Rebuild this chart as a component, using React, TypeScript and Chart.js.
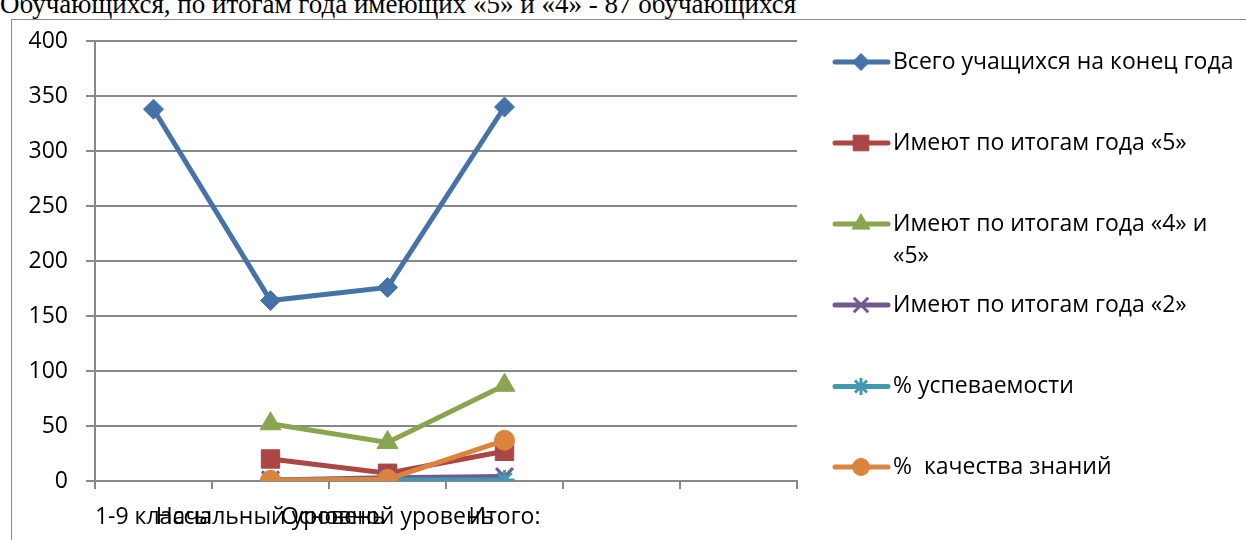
import React, { useEffect, useRef } from "react";
import { Chart, registerables } from "chart.js";
import { drawPoint } from "chart.js/helpers";

Chart.register(...registerables);

// ---- data ----
const titleText = "Обучающихся, по итогам года имеющих «5» и «4» - 87 обучающихся";
const categories = ["1-9 классы", "Начальный уровень", "Основной уровень", "Итого:", "", ""];
const seriesNames = [
  "Всего учащихся на конец года",
  "Имеют по итогам года «5»",
  "Имеют по итогам года «4» и «5»",
  "Имеют по итогам года «2»",
  "% успеваемости",
  "%  качества знаний",
];
const totalStudents = [338, 164, 176, 340, null, null];
const gradeFive = [null, 20, 7, 27, null, null];
const gradeFourFive = [null, 52, 35, 87, null, null];
const gradeTwo = [null, 1, 3, 4, null, null];
const successPct = [null, 0.99, 0.98, 0.99, null, null];
const qualityPct = [null, 0.6, 1.5, 37, null, null];
const yMin = 0;
const yMax = 400;
const yStep = 50;

// ---- style ----
const colors = ["#4572A7", "#AA4643", "#89A54E", "#71588F", "#4198AF", "#DB843D"];
const pointStyles = ["rectRot", "rect", "triangle", "crossRot", "star", "circle"];
const pointRadii = [10, 13, 12, 12, 10, 10];
const pointBorderWidths = [1, 1, 1, 3, 3, 1];
const seriesValues = [totalStudents, gradeFive, gradeFourFive, gradeTwo, successPct, qualityPct];
const FONT_FAMILY = "'Open Sans', 'Noto Sans', sans-serif";
const FONT_SIZE = 23;
const GRID = "#888888";
const LEGEND_Y = [62, 143, 224, 305, 386.5, 467];
const LEGEND_LINE_X0 = 835;
const LEGEND_LINE_X1 = 888;
const LEGEND_MARK_X = 861;
const LEGEND_TEXT_X = 893;
const LEGEND_MAX_W = 345;
const LEGEND_LINE_H = 32.6;

function wrapText(ctx: CanvasRenderingContext2D, text: string, maxW: number): string[] {
  const words = text.split(" ");
  const lines: string[] = [];
  let cur = "";
  for (const w of words) {
    const test = cur ? cur + " " + w : w;
    if (cur && ctx.measureText(test).width > maxW) {
      lines.push(cur);
      cur = w;
    } else {
      cur = test;
    }
  }
  if (cur) lines.push(cur);
  return lines;
}

const sideLegend = {
  id: "sideLegend",
  afterDraw(chart: any) {
    const ctx: CanvasRenderingContext2D = chart.ctx;
    ctx.save();
    chart.data.datasets.forEach((ds: any, i: number) => {
      const y = LEGEND_Y[i];
      ctx.strokeStyle = ds.borderColor;
      ctx.lineWidth = 5;
      ctx.lineCap = "round";
      ctx.beginPath();
      ctx.moveTo(LEGEND_LINE_X0, y);
      ctx.lineTo(LEGEND_LINE_X1, y);
      ctx.stroke();
      ctx.lineCap = "butt";
      ctx.fillStyle = ds.pointBackgroundColor;
      ctx.strokeStyle = ds.pointBorderColor;
      ctx.lineWidth = ds.pointBorderWidth;
      drawPoint(
        ctx,
        { pointStyle: ds.pointStyle, radius: ds.pointRadius * 0.85, rotation: 0, borderWidth: ds.pointBorderWidth } as any,
        LEGEND_MARK_X,
        y
      );
      ctx.fillStyle = "#000";
      ctx.font = `${FONT_SIZE}px ${FONT_FAMILY}`;
      ctx.textBaseline = "middle";
      ctx.textAlign = "left";
      const lines = wrapText(ctx, ds.label, LEGEND_MAX_W);
      lines.forEach((ln, k) => ctx.fillText(ln, LEGEND_TEXT_X, y + k * LEGEND_LINE_H));
    });
    ctx.restore();
  },
};

export default function App() {
  const canvasRef = useRef<HTMLCanvasElement | null>(null);

  useEffect(() => {
    if (!canvasRef.current) return;
    const datasets = seriesNames.map((name, i) => ({
      label: name,
      data: seriesValues[i],
      borderColor: colors[i],
      backgroundColor: colors[i],
      borderWidth: 5,
      pointStyle: pointStyles[i],
      pointRadius: pointRadii[i],
      pointHoverRadius: pointRadii[i],
      pointBackgroundColor: colors[i],
      pointBorderColor: colors[i],
      pointBorderWidth: pointBorderWidths[i],
      tension: 0,
      spanGaps: false,
      order: seriesNames.length - i,
    }));
    const chart = new Chart(canvasRef.current, {
      type: "line",
      data: { labels: categories, datasets },
      plugins: [sideLegend],
      options: {
        animation: false,
        responsive: true,
        maintainAspectRatio: false,
        layout: { padding: { left: 0, top: 41, right: 1246 - 797, bottom: 0 } },
        plugins: { legend: { display: false }, tooltip: { enabled: false }, title: { display: false } },
        scales: {
          x: {
            type: "category",
            offset: true,
            grid: {
              display: true,
              drawOnChartArea: false,
              drawTicks: true,
              tickLength: 8,
              offset: true,
              color: GRID,
              lineWidth: 2,
            },
            border: { display: true, color: GRID, width: 2 },
            ticks: {
              autoSkip: false,
              maxRotation: 0,
              minRotation: 0,
              padding: 15,
              color: "#000",
              font: { family: FONT_FAMILY, size: FONT_SIZE },
            },
            afterFit: (scale: any) => {
              scale.height = 540 - 481;
            },
          },
          y: {
            min: yMin,
            max: yMax,
            grid: { color: GRID, lineWidth: 2, tickLength: 9, drawTicks: true },
            border: { display: true, color: GRID, width: 2 },
            ticks: {
              stepSize: yStep,
              padding: 18,
              color: "#000",
              font: { family: FONT_FAMILY, size: FONT_SIZE },
            },
            afterFit: (scale: any) => {
              scale.width = 95;
            },
          },
        },
      },
    } as any);
    return () => chart.destroy();
  }, []);

  return (
    <div
      style={{
        position: "fixed",
        left: 0,
        top: 0,
        width: 1246,
        height: 540,
        overflow: "hidden",
        background: "#fff",
      }}
    >
      <div
        style={{
          position: "absolute",
          left: 0,
          top: -9,
          whiteSpace: "nowrap",
          fontFamily: "'Liberation Serif', 'Times New Roman', serif",
          fontSize: 27,
          lineHeight: "27px",
          color: "#000",
        }}
      >
        {titleText}
      </div>
      <div
        style={{
          position: "absolute",
          left: 11,
          top: 19,
          width: 1300,
          height: 600,
          border: "1px solid #8a8a8a",
          background: "#fff",
        }}
      />
      <div style={{ position: "absolute", left: 0, top: 0, width: 1246, height: 540 }}>
        <canvas ref={canvasRef} />
      </div>
    </div>
  );
}
